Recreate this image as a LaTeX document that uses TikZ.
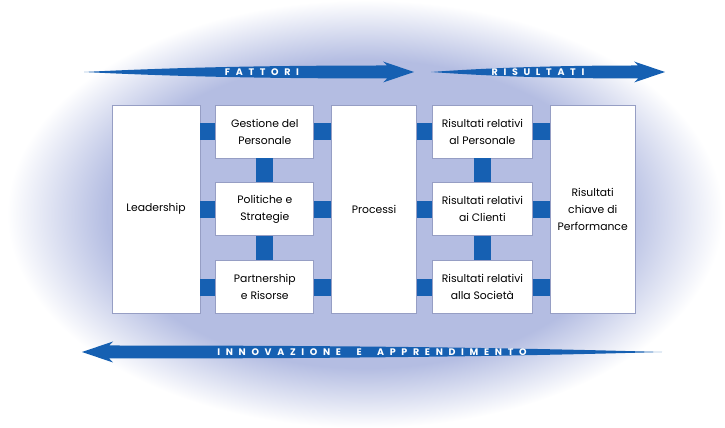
\documentclass[tikz,border=0pt]{standalone}
\usepackage{fontspec}
\setmainfont{Poppins}
\usetikzlibrary{positioning}
\definecolor{halo}{RGB}{180,189,226}
\definecolor{navy}{RGB}{22,96,178}
\definecolor{rim}{RGB}{150,158,196}

\pgfdeclareradialshading{halofade}{\pgfpoint{0bp}{0bp}}{color(0bp)=(halo); color(18bp)=(halo); color(25bp)=(white); color(50bp)=(white)}

\tikzset{
  box/.style={draw=rim, fill=white, line width=0.8pt, inner sep=2pt, align=center, font=\fontsize{10.8}{17}\selectfont},
  tallbox/.style={box, minimum width=86pt, minimum height=208pt},
  smallbox/.style={box, minimum width=98pt, minimum height=53pt},
  link/.style={draw=navy, line width=17pt},
  bannertext/.style={text=white, font=\fontsize{9.5}{10}\selectfont\bfseries\addfontfeature{LetterSpace=60}},
  banner/.pic={
    \fill[navy] (0,0) .. controls (0.3*#1,5) and (0.6*#1,6.5) .. (#1-27,6.5) -- (#1-31,10.5) -- (#1,0) -- (#1-31,-10.5) -- (#1-27,-6.5) .. controls (0.6*#1,-6.5) and (0.3*#1,-5) .. (0,0) -- cycle;
  }
}

\begin{document}
\begin{tikzpicture}[x=1pt, y=1pt, node distance=24pt]
\useasboundingbox (0,0) rectangle (725,428);
\shade[shading=halofade] (365,214) ellipse (358 and 214);

% frecce
\coordinate (fatS) at (84,356);
\coordinate (risS) at (431,356);
\coordinate (innS) at (662,76);
\pic at (fatS) {banner=330};
\pic at (risS) {banner=234};
\pic[xscale=-1] at (innS) {banner=580};
\node[bannertext] (fat) at (262,356) {FATTORI};
\node[bannertext] (ris) at (538,356) {RISULTATI};
\node[bannertext] (inn) at (372,76) {INNOVAZIONE\ \ E\ \ APPRENDIMENTO};

% fattori
\node[tallbox, minimum width=88pt] (lead) at (156,219) {Leadership};
\node[smallbox, right=15pt of lead.north east, anchor=north west] (ges) {Gestione del\\Personale};
\node[smallbox, below=of ges] (pol) {Politiche e\\Strategie};
\node[smallbox, below=of pol] (part) {Partnership\\e Risorse};
\node[tallbox, minimum width=85pt, right=17pt of ges.north east, anchor=north west] (proc) {Processi};

% risultati
\node[smallbox, minimum width=100pt, right=15pt of proc.north east, anchor=north west] (rper) {Risultati relativi\\al Personale};
\node[smallbox, minimum width=100pt, below=of rper] (rcli) {Risultati relativi\\ai Clienti};
\node[smallbox, minimum width=100pt, below=of rcli] (rsoc) {Risultati relativi\\alla Società};
\node[tallbox, minimum width=85pt, right=17pt of rper.north east, anchor=north west] (kpi) {Risultati\\chiave di\\Performance};

% collegamenti
\foreach \n in {ges,pol,part} {
  \path[link] (lead.east |- \n.west) -- (\n.west);
  \path[link] (\n.east) -- (proc.west |- \n.east);
}
\foreach \n in {rper,rcli,rsoc} {
  \path[link] (proc.east |- \n.west) -- (\n.west);
  \path[link] (\n.east) -- (kpi.west |- \n.east);
}
\path[link] (ges.south) -- (pol.north);
\path[link] (pol.south) -- (part.north);
\path[link] (rper.south) -- (rcli.north);
\path[link] (rcli.south) -- (rsoc.north);
\end{tikzpicture}
\end{document}
